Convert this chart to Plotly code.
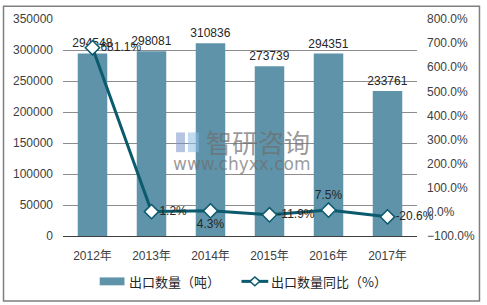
import plotly.graph_objects as go

years = ["2012年", "2013年", "2014年", "2015年", "2016年", "2017年"]
export_qty = [294548, 298081, 310836, 273739, 294351, 233761]
yoy_pct = [681.1, 1.2, 4.3, -11.9, 7.5, -20.6]
yoy_pos = ["middle right", "middle right", "bottom center", "middle right", "top center", "middle right"]
legend_names = ["出口数量（吨）", "出口数量同比（%）"]

FONT = "Liberation Sans, Arial, Noto Sans CJK SC, sans-serif"
CJK = "Noto Sans CJK SC, sans-serif"
BAR_C = "#5E93AA"
LINE_C = "#0B5A6E"

# pixel -> paper helpers (plot area: x 63..420, y 16..236)
L, R, T, B = 63, 420, 16, 236
def px(x):
    return (x - L) / (R - L)
def py(y):
    return (B - y) / (B - T)

fig = go.Figure()
fig.add_trace(go.Bar(
    x=years, y=export_qty, name=legend_names[0],
    marker=dict(color=BAR_C, line=dict(width=0)),
    text=[str(v) for v in export_qty], textposition="outside", constraintext="none",
    textfont=dict(size=12, color="#262626", family=FONT),
    cliponaxis=False, showlegend=False,
))
fig.add_trace(go.Scatter(
    x=years, y=yoy_pct, name=legend_names[1], yaxis="y2",
    mode="lines+markers+text",
    line=dict(color=LINE_C, width=3),
    marker=dict(symbol="diamond", size=11, color="white", line=dict(color=LINE_C, width=1.5)),
    text=[f"{v:.1f}%" for v in yoy_pct], textposition=yoy_pos,
    textfont=dict(size=12, color="#262626", family=FONT),
    cliponaxis=False, showlegend=False,
))

shapes = [
    dict(type="rect", xref="paper", yref="paper",
         x0=px(3), x1=px(483), y0=py(302), y1=py(3),
         line=dict(color="#7F7F7F", width=1.5), fillcolor="rgba(0,0,0,0)", layer="below"),
    # legend: bar swatch
    dict(type="rect", xref="paper", yref="paper",
         x0=px(100), x1=px(125), y0=py(286), y1=py(278),
         line=dict(width=0), fillcolor=BAR_C),
    # legend: line swatch
    dict(type="line", xref="paper", yref="paper",
         x0=px(243), x1=px(270), y0=py(282), y1=py(282),
         line=dict(color=LINE_C, width=3)),
    dict(type="path", xref="paper", yref="paper",
         path=f"M {px(251.5)},{py(282)} L {px(256.5)},{py(277.5)} L {px(261.5)},{py(282)} L {px(256.5)},{py(286.5)} Z",
         line=dict(color=LINE_C, width=1.5), fillcolor="white"),
    # watermark logo blocks
    dict(type="rect", xref="paper", yref="paper",
         x0=px(177), x1=px(186), y0=py(151), y1=py(131),
         line=dict(width=0), fillcolor="rgba(120,150,200,0.55)"),
    dict(type="rect", xref="paper", yref="paper",
         x0=px(189), x1=px(200), y0=py(151), y1=py(131),
         line=dict(width=0), fillcolor="rgba(140,190,230,0.55)"),
]

annotations = [
    dict(text=legend_names[0], xref="paper", yref="paper", x=px(128), y=py(282),
         xanchor="left", yanchor="middle", showarrow=False,
         font=dict(size=13, color="#262626", family=CJK)),
    dict(text=legend_names[1], xref="paper", yref="paper", x=px(271), y=py(282),
         xanchor="left", yanchor="middle", showarrow=False,
         font=dict(size=13, color="#262626", family=CJK)),
    dict(text="智研咨询", xref="paper", yref="paper", x=px(260), y=py(140),
         xanchor="center", yanchor="middle", showarrow=False,
         font=dict(size=26, color="rgba(110,110,110,0.7)", family=CJK)),
    dict(text="www.chyxx.com", xref="paper", yref="paper", x=px(244), y=py(163),
         xanchor="center", yanchor="middle", showarrow=False,
         font=dict(size=17, color="rgba(110,110,110,0.7)", family="DejaVu Sans")),
]

fig.update_layout(
    width=487, height=305,
    margin=dict(l=L, r=487 - R, t=T, b=305 - B),
    paper_bgcolor="white", plot_bgcolor="white",
    font=dict(family=FONT, size=12, color="#404040"),
    bargap=0.5,
    showlegend=False,
    xaxis=dict(showgrid=False, showline=True, linecolor="#404040", linewidth=1,
               ticks="", ticklabelstandoff=9,
               tickfont=dict(size=12, color="#404040", family=FONT)),
    yaxis=dict(range=[0, 350000], dtick=50000, showgrid=True, gridcolor="#8C8C8C", gridwidth=1,
               zeroline=False, showline=False, ticks="", tickformat="d", ticklabelstandoff=9,
               tickfont=dict(size=12, color="#404040")),
    yaxis2=dict(range=[-100, 800], dtick=100, overlaying="y", side="right", showgrid=False,
                zeroline=False, showline=False, ticks="", tickformat=".1f", ticksuffix="%",
                ticklabelstandoff=9,
                tickfont=dict(size=12, color="#404040")),
    shapes=shapes,
    annotations=annotations,
)

fig.write_html("out.html")
